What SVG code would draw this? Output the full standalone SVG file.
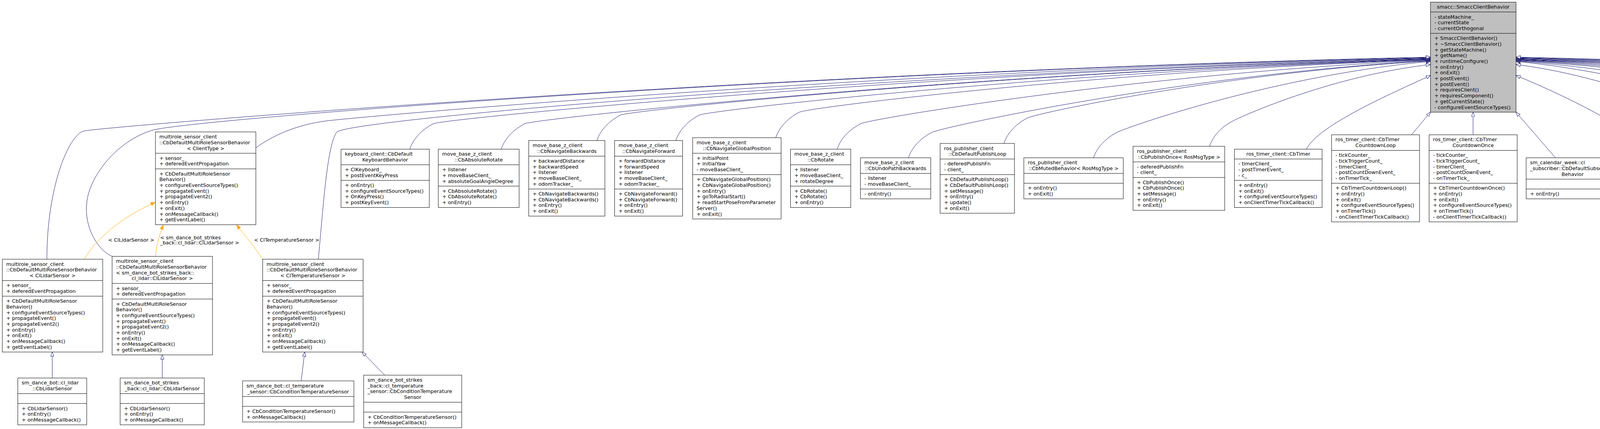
<svg xmlns="http://www.w3.org/2000/svg" width="7638" height="1097" viewBox="0 0 7638 1097">
<style>
text{font-family:"DejaVu Sans","Liberation Sans",sans-serif;font-size:12.8px;fill:#000}
.c{text-anchor:middle}
.b{fill:#fff;stroke:#000;stroke-width:1}
.g{fill:#bfbfbf;stroke:#000;stroke-width:1}
.s{fill:none;stroke:#000;stroke-width:1}
.e{fill:none;stroke:#191970;stroke-width:1;marker-end:url(#inh)}
.o{fill:none;stroke:#ffa500;stroke-width:1;marker-end:url(#tpl)}
</style>
<defs>
<marker id="inh" viewBox="0 0 12 10" refX="11.5" refY="5" markerWidth="12" markerHeight="10" markerUnits="userSpaceOnUse" orient="auto"><path d="M0.5,0.8 L11.5,5 L0.5,9.2 Z" fill="#fff" stroke="#191970"/></marker>
<marker id="tpl" viewBox="0 0 12 10" refX="11.5" refY="5" markerWidth="12" markerHeight="10" markerUnits="userSpaceOnUse" orient="auto"><path d="M0.5,0.8 L11.5,5 L0.5,9.2 Z" fill="#ffa500" stroke="#ffa500"/></marker>
</defs>
<rect width="7638" height="1097" fill="#fff"/>
<g id="edges">
<path class="e" d="M3096.4,374.1 C3106.4,344.1 3131.4,322.1 3156.4,309.1 S3409.2,193.8 3662,165"/>
<path class="e" d="M2799.4,403.5 C2809.4,373.5 2834.4,351.5 2859.4,338.5 S3260.7,193.3 3662,157"/>
<path class="e" d="M2570,366.75 C2580,336.75 2605,314.75 2630,301.75 S3146,185.2 3662,156"/>
<path class="e" d="M2325.5,403.5 C2335.5,373.5 2360.5,351.5 2385.5,338.5 S3023.8,191.7 3662,155"/>
<path class="e" d="M2143,381.45 C2153,351.45 2178,329.45 2203,316.45 S2932.5,186.5 3662,154"/>
<path class="e" d="M1986,352 C1996,322 2021,300 2046,287 S2854,179.8 3662,153"/>
<path class="e" d="M1730,359.4 C1740,329.4 1765,307.4 1790,294.4 S2726,180.9 3662,152.5"/>
<path class="e" d="M1528,359.4 C1538,329.4 1563,307.4 1588,294.4 S2625,180.5 3662,152"/>
<path class="e" d="M1283,381.45 C1293,351.45 1318,329.45 1343,316.45 S2502.5,184.1 3662,151"/>
<path class="e" d="M1049,381.45 C1059,351.45 1084,329.45 1109,316.45 S2385.5,183.3 3662,150"/>
<path class="e" d="M815,662.85 C828,520 838,370 862,338 S2262,186.8 3662,149"/>
<path class="e" d="M655,378 C700,345 760,320 829,310 S2245.5,180.4 3662,148"/>
<path class="e" d="M287,655.5 C250,640 215,580 222,520 C228,450 300,360 390,333 S2026,184.2 3662,147"/>
<path class="e" d="M120,662.85 C120,480 175,345 215,335 S1938.5,183.8 3662,146"/>
<path class="e" d="M3344.3,381.45 C3375,320 3560,240 3662,193"/>
<path class="e" d="M3613.4,344.7 L3662,286.9"/>
<path class="e" d="M3771,344.7 L3771,286.9"/>
<path class="e" d="M3982,403.5 L3881,286.9"/>
<path class="e" d="M4239.7,403.5 C4200,340 4020,250 3881,193"/>
<path class="e" d="M4496.3,403.5 C4486.3,373.5 4461.3,351.5 4436.3,338.5 S4158.7,199.7 3881,165"/>
<path class="e" d="M4683.6,403.5 C4673.6,373.5 4648.6,351.5 4623.6,338.5 S4252.3,193.3 3881,157"/>
<path class="e" d="M4875.4,396.15 C4865.4,366.15 4840.4,344.15 4815.4,331.15 S4348.2,191 3881,156"/>
<path class="e" d="M5094,388.8 C5084,358.8 5059,336.8 5034,323.8 S4457.5,188.8 3881,155"/>
<path class="e" d="M5333.6,403.5 C5323.6,373.5 5298.6,351.5 5273.6,338.5 S4577.3,190.9 3881,154"/>
<path class="e" d="M5532,403.5 C5522,373.5 5497,351.5 5472,338.5 S4676.5,190.1 3881,153"/>
<path class="e" d="M5738,396.15 C5728,366.15 5703,344.15 5678,331.15 S4779.5,188.2 3881,152.5"/>
<path class="e" d="M5963.4,381.45 C5953.4,351.45 5928.4,329.45 5903.4,316.45 S4892.2,184.9 3881,152"/>
<path class="e" d="M6212,410.85 C6202,380.85 6177,358.85 6152,345.85 S5016.5,190 3881,151"/>
<path class="e" d="M6462.7,410.85 C6452.7,380.85 6427.7,358.85 6402.7,345.85 S5141.9,189.2 3881,150"/>
<path class="e" d="M6719,410.85 C6709,380.85 6684,358.85 6659,345.85 S5270,188.4 3881,149"/>
<path class="e" d="M6971,410.85 C6961,380.85 6936,358.85 6911,345.85 S5396,187.6 3881,148"/>
<path class="e" d="M7226,410.85 C7216,380.85 7191,358.85 7166,345.85 S5523.5,186.8 3881,147"/>
<path class="e" d="M7476.5,410.85 C7466.5,380.85 7441.5,358.85 7416.5,345.85 S5648.8,186 3881,146"/>
<path class="e" d="M133.8,966.65 L133.8,900.15"/>
<path class="e" d="M415.4,966.65 L415.4,907.5"/>
<path class="e" d="M771,974 L780,900.15"/>
<path class="e" d="M985,959.3 L927,900.15"/>
<path class="o" d="M215.6,662.85 C240,620 300,560 397,517.5"/>
<path class="o" d="M398,655.5 C400,630 408,600 418,575.5"/>
<path class="o" d="M672.5,662.85 C655,635 625,600 606,575.5"/>
<text class="c" x="336" y="618">&lt; ClLidarSensor &gt;</text>
<text x="410" y="611.5">&lt; sm_dance_bot_strikes</text>
<text x="410" y="625">_back::cl_lidar::ClLidarSensor &gt;</text>
<text class="c" x="734" y="618">&lt; ClTemperatureSensor &gt;</text>
</g>
<g id="n_top" transform="translate(3662,5.5)"><rect class="g" width="219" height="281.4"/><path class="s" d="M0,25.2H219M0,79.8H219"/>
<text class="c" x="109.5" y="16.8">smacc::SmaccClientBehavior</text>
<text x="10" y="42">- stateMachine_</text><text x="10" y="56.7">- currentState</text><text x="10" y="71.4">- currentOrthogonal</text>
<text x="10" y="96.6">+ SmaccClientBehavior()</text><text x="10" y="111.3">+ ~SmaccClientBehavior()</text><text x="10" y="126">+ getStateMachine()</text><text x="10" y="140.7">+ getName()</text><text x="10" y="155.4">+ runtimeConfigure()</text><text x="10" y="170.1">+ onEntry()</text><text x="10" y="184.8">+ onExit()</text><text x="10" y="199.5">+ postEvent()</text><text x="10" y="214.2">+ postEvent()</text><text x="10" y="228.9">+ requiresClient()</text><text x="10" y="243.6">+ requiresComponent()</text><text x="10" y="258.3">+ getCurrentState()</text><text x="10" y="273">- configureEventSourceTypes()</text>
</g>
<g id="n_tmpl" transform="translate(398,337.35)"><rect class="b" width="257" height="237.3"/><path class="s" d="M0,54.6H257M0,94.5H257"/>
<text x="10" y="16.8">multirole_sensor_client</text><text x="10" y="31.5">::CbDefaultMultiRoleSensorBehavior</text><text class="c" x="128.5" y="46.2">&lt; ClientType &gt;</text>
<text x="10" y="71.4">+ sensor_</text><text x="10" y="86.1">+ deferedEventPropagation</text>
<text x="10" y="111.3">+ CbDefaultMultiRoleSensor</text><text x="10" y="126">Behavior()</text><text x="10" y="140.7">+ configureEventSourceTypes()</text><text x="10" y="155.4">+ propagateEvent()</text><text x="10" y="170.1">+ propagateEvent2()</text><text x="10" y="184.8">+ onEntry()</text><text x="10" y="199.5">+ onExit()</text><text x="10" y="214.2">+ onMessageCallback()</text><text x="10" y="228.9">+ getEventLabel()</text>
</g>
<g id="n_lidar_inst" transform="translate(6,662.85)"><rect class="b" width="257" height="237.3"/><path class="s" d="M0,54.6H257M0,94.5H257"/>
<text x="10" y="16.8">multirole_sensor_client</text><text x="10" y="31.5">::CbDefaultMultiRoleSensorBehavior</text><text class="c" x="128.5" y="46.2">&lt; ClLidarSensor &gt;</text>
<text x="10" y="71.4">+ sensor_</text><text x="10" y="86.1">+ deferedEventPropagation</text>
<text x="10" y="111.3">+ CbDefaultMultiRoleSensor</text><text x="10" y="126">Behavior()</text><text x="10" y="140.7">+ configureEventSourceTypes()</text><text x="10" y="155.4">+ propagateEvent()</text><text x="10" y="170.1">+ propagateEvent2()</text><text x="10" y="184.8">+ onEntry()</text><text x="10" y="199.5">+ onExit()</text><text x="10" y="214.2">+ onMessageCallback()</text><text x="10" y="228.9">+ getEventLabel()</text>
</g>
<g id="n_sb_lidar_inst" transform="translate(287,655.5)"><rect class="b" width="257" height="252"/><path class="s" d="M0,69.3H257M0,109.2H257"/>
<text x="10" y="16.8">multirole_sensor_client</text><text x="10" y="31.5">::CbDefaultMultiRoleSensorBehavior</text><text x="10" y="46.2">&lt; sm_dance_bot_strikes_back::</text><text class="c" x="128.5" y="60.9">cl_lidar::ClLidarSensor &gt;</text>
<text x="10" y="86.1">+ sensor_</text><text x="10" y="100.8">+ deferedEventPropagation</text>
<text x="10" y="126">+ CbDefaultMultiRoleSensor</text><text x="10" y="140.7">Behavior()</text><text x="10" y="155.4">+ configureEventSourceTypes()</text><text x="10" y="170.1">+ propagateEvent()</text><text x="10" y="184.8">+ propagateEvent2()</text><text x="10" y="199.5">+ onEntry()</text><text x="10" y="214.2">+ onExit()</text><text x="10" y="228.9">+ onMessageCallback()</text><text x="10" y="243.6">+ getEventLabel()</text>
</g>
<g id="n_temp_inst" transform="translate(672.5,662.85)"><rect class="b" width="257" height="237.3"/><path class="s" d="M0,54.6H257M0,94.5H257"/>
<text x="10" y="16.8">multirole_sensor_client</text><text x="10" y="31.5">::CbDefaultMultiRoleSensorBehavior</text><text class="c" x="128.5" y="46.2">&lt; ClTemperatureSensor &gt;</text>
<text x="10" y="71.4">+ sensor_</text><text x="10" y="86.1">+ deferedEventPropagation</text>
<text x="10" y="111.3">+ CbDefaultMultiRoleSensor</text><text x="10" y="126">Behavior()</text><text x="10" y="140.7">+ configureEventSourceTypes()</text><text x="10" y="155.4">+ propagateEvent()</text><text x="10" y="170.1">+ propagateEvent2()</text><text x="10" y="184.8">+ onEntry()</text><text x="10" y="199.5">+ onExit()</text><text x="10" y="214.2">+ onMessageCallback()</text><text x="10" y="228.9">+ getEventLabel()</text>
</g>
<g id="n_keyboard" transform="translate(873,381.45)"><rect class="b" width="226" height="149.1"/><path class="s" d="M0,39.9H226M0,79.8H226"/>
<text x="10" y="16.8">keyboard_client::CbDefault</text><text class="c" x="113" y="31.5">KeyboardBehavior</text>
<text x="10" y="56.7">+ ClKeyboard_</text><text x="10" y="71.4">+ postEventKeyPress</text>
<text x="10" y="96.6">+ onEntry()</text><text x="10" y="111.3">+ configureEventSourceTypes()</text><text x="10" y="126">+ OnKeyPress()</text><text x="10" y="140.7">+ postKeyEvent()</text>
</g>
<g id="n_absrot" transform="translate(1122,381.45)"><rect class="b" width="207" height="149.1"/><path class="s" d="M0,39.9H207M0,94.5H207"/>
<text x="10" y="16.8">move_base_z_client</text><text class="c" x="103.5" y="31.5">::CbAbsoluteRotate</text>
<text x="10" y="56.7">+ listener</text><text x="10" y="71.4">+ moveBaseClient_</text><text x="10" y="86.1">+ absoluteGoalAngleDegree</text>
<text x="10" y="111.3">+ CbAbsoluteRotate()</text><text x="10" y="126">+ CbAbsoluteRotate()</text><text x="10" y="140.7">+ onEntry()</text>
</g>
<g id="n_navback" transform="translate(1353.6,359.4)"><rect class="b" width="195" height="193.2"/><path class="s" d="M0,39.9H195M0,123.9H195"/>
<text x="10" y="16.8">move_base_z_client</text><text class="c" x="97.5" y="31.5">::CbNavigateBackwards</text>
<text x="10" y="56.7">+ backwardDistance</text><text x="10" y="71.4">+ backwardSpeed</text><text x="10" y="86.1">+ listener</text><text x="10" y="100.8">+ moveBaseClient_</text><text x="10" y="115.5">+ odomTracker_</text>
<text x="10" y="140.7">+ CbNavigateBackwards()</text><text x="10" y="155.4">+ CbNavigateBackwards()</text><text x="10" y="170.1">+ onEntry()</text><text x="10" y="184.8">+ onExit()</text>
</g>
<g id="n_navfwd" transform="translate(1573.4,359.4)"><rect class="b" width="174" height="193.2"/><path class="s" d="M0,39.9H174M0,123.9H174"/>
<text x="10" y="16.8">move_base_z_client</text><text class="c" x="87" y="31.5">::CbNavigateForward</text>
<text x="10" y="56.7">+ forwardDistance</text><text x="10" y="71.4">+ forwardSpeed</text><text x="10" y="86.1">+ listener</text><text x="10" y="100.8">+ moveBaseClient_</text><text x="10" y="115.5">+ odomTracker_</text>
<text x="10" y="140.7">+ CbNavigateForward()</text><text x="10" y="155.4">+ CbNavigateForward()</text><text x="10" y="170.1">+ onEntry()</text><text x="10" y="184.8">+ onExit()</text>
</g>
<g id="n_navglobal" transform="translate(1773.2,352.05)"><rect class="b" width="226.4" height="207.9"/><path class="s" d="M0,39.9H226.4M0,94.5H226.4"/>
<text x="10" y="16.8">move_base_z_client</text><text class="c" x="113.2" y="31.5">::CbNavigateGlobalPosition</text>
<text x="10" y="56.7">+ initialPoint</text><text x="10" y="71.4">+ initialYaw</text><text x="10" y="86.1">- moveBaseClient_</text>
<text x="10" y="111.3">+ CbNavigateGlobalPosition()</text><text x="10" y="126">+ CbNavigateGlobalPosition()</text><text x="10" y="140.7">+ onEntry()</text><text x="10" y="155.4">+ goToRadialStart()</text><text x="10" y="170.1">+ readStartPoseFromParameter</text><text x="10" y="184.8">Server()</text><text x="10" y="199.5">+ onExit()</text>
</g>
<g id="n_rotate" transform="translate(2023.6,381.45)"><rect class="b" width="154.3" height="149.1"/><path class="s" d="M0,39.9H154.3M0,94.5H154.3"/>
<text x="10" y="16.8">move_base_z_client</text><text class="c" x="77.15" y="31.5">::CbRotate</text>
<text x="10" y="56.7">+ listener</text><text x="10" y="71.4">+ moveBaseClient_</text><text x="10" y="86.1">+ rotateDegree</text>
<text x="10" y="111.3">+ CbRotate()</text><text x="10" y="126">+ CbRotate()</text><text x="10" y="140.7">+ onEntry()</text>
</g>
<g id="n_undo" transform="translate(2202.7,403.5)"><rect class="b" width="180" height="105"/><path class="s" d="M0,39.9H180M0,79.8H180"/>
<text x="10" y="16.8">move_base_z_client</text><text class="c" x="90" y="31.5">::CbUndoPathBackwards</text>
<text x="10" y="56.7">- listener</text><text x="10" y="71.4">- moveBaseClient_</text>
<text x="10" y="96.6">- onEntry()</text>
</g>
<g id="n_publoop" transform="translate(2406.7,366.75)"><rect class="b" width="190.3" height="178.5"/><path class="s" d="M0,39.9H190.3M0,79.8H190.3"/>
<text x="10" y="16.8">ros_publisher_client</text><text class="c" x="95.15" y="31.5">::CbDefaultPublishLoop</text>
<text x="10" y="56.7">- deferedPublishFn</text><text x="10" y="71.4">- client_</text>
<text x="10" y="96.6">+ CbDefaultPublishLoop()</text><text x="10" y="111.3">+ CbDefaultPublishLoop()</text><text x="10" y="126">+ setMessage()</text><text x="10" y="140.7">+ onEntry()</text><text x="10" y="155.4">+ update()</text><text x="10" y="170.1">+ onExit()</text>
</g>
<g id="n_muted" transform="translate(2621,403.5)"><rect class="b" width="254.6" height="105"/><path class="s" d="M0,39.9H254.6M0,65.1H254.6"/>
<text x="10" y="16.8">ros_publisher_client</text><text class="c" x="127.3" y="31.5">::CbMutedBehavior&lt; RosMsgType &gt;</text>
<text x="10" y="81.9">+ onEntry()</text><text x="10" y="96.6">+ onExit()</text>
</g>
<g id="n_pubonce" transform="translate(2900.6,374.1)"><rect class="b" width="234.7" height="163.8"/><path class="s" d="M0,39.9H234.7M0,79.8H234.7"/>
<text x="10" y="16.8">ros_publisher_client</text><text class="c" x="117.35" y="31.5">::CbPublishOnce&lt; RosMsgType &gt;</text>
<text x="10" y="56.7">- deferedPublishFn</text><text x="10" y="71.4">- client_</text>
<text x="10" y="96.6">+ CbPublishOnce()</text><text x="10" y="111.3">+ CbPublishOnce()</text><text x="10" y="126">+ setMessage()</text><text x="10" y="140.7">+ onEntry()</text><text x="10" y="155.4">+ onExit()</text>
</g>
<g id="n_timer" transform="translate(3160.2,381.45)"><rect class="b" width="224.4" height="149.1"/><path class="s" d="M0,25.2H224.4M0,79.8H224.4"/>
<text class="c" x="112.2" y="16.8">ros_timer_client::CbTimer</text>
<text x="10" y="42">- timerClient_</text><text x="10" y="56.7">- postTimerEvent_</text><text x="10" y="71.4">- c_</text>
<text x="10" y="96.6">+ onEntry()</text><text x="10" y="111.3">+ onExit()</text><text x="10" y="126">+ configureEventSourceTypes()</text><text x="10" y="140.7">+ onClientTimerTickCallback()</text>
</g>
<g id="n_cdloop" transform="translate(3408.8,344.7)"><rect class="b" width="225.2" height="222.6"/><path class="s" d="M0,39.9H225.2M0,123.9H225.2"/>
<text x="10" y="16.8">ros_timer_client::CbTimer</text><text class="c" x="112.6" y="31.5">CountdownLoop</text>
<text x="10" y="56.7">- tickCounter_</text><text x="10" y="71.4">- tickTriggerCount_</text><text x="10" y="86.1">- timerClient_</text><text x="10" y="100.8">- postCountDownEvent_</text><text x="10" y="115.5">- onTimerTick_</text>
<text x="10" y="140.7">+ CbTimerCountdownLoop()</text><text x="10" y="155.4">+ onEntry()</text><text x="10" y="170.1">+ onExit()</text><text x="10" y="184.8">+ configureEventSourceTypes()</text><text x="10" y="199.5">+ onTimerTick()</text><text x="10" y="214.2">- onClientTimerTickCallback()</text>
</g>
<g id="n_cdonce" transform="translate(3658.5,344.7)"><rect class="b" width="225.5" height="222.6"/><path class="s" d="M0,39.9H225.5M0,123.9H225.5"/>
<text x="10" y="16.8">ros_timer_client::CbTimer</text><text class="c" x="112.75" y="31.5">CountdownOnce</text>
<text x="10" y="56.7">- tickCounter_</text><text x="10" y="71.4">- tickTriggerCount_</text><text x="10" y="86.1">- timerClient_</text><text x="10" y="100.8">- postCountDownEvent_</text><text x="10" y="115.5">- onTimerTick_</text>
<text x="10" y="140.7">+ CbTimerCountdownOnce()</text><text x="10" y="155.4">+ onEntry()</text><text x="10" y="170.1">+ onExit()</text><text x="10" y="184.8">+ configureEventSourceTypes()</text><text x="10" y="199.5">+ onTimerTick()</text><text x="10" y="214.2">- onClientTimerTickCallback()</text>
</g>
<g id="n_cal_default" transform="translate(3907,403.5)"><rect class="b" width="237.6" height="105"/><path class="s" d="M0,54.6H237.6M0,79.8H237.6"/>
<text x="10" y="16.8">sm_calendar_week::cl</text><text x="10" y="31.5">_subscriber::CbDefaultSubscriber</text><text class="c" x="118.8" y="46.2">Behavior</text>
<text x="10" y="96.6">+ onEntry()</text>
</g>
<g id="n_cal_watchdog" transform="translate(4168.7,403.5)"><rect class="b" width="252.9" height="105"/><path class="s" d="M0,54.6H252.9M0,79.8H252.9"/>
<text x="10" y="16.8">sm_calendar_week::cl</text><text x="10" y="31.5">_subscriber::CbWatchdogSubscriber</text><text class="c" x="126.45" y="46.2">Behavior</text>
<text x="10" y="96.6">+ onEntry()</text>
</g>
<g id="n_ledoff" transform="translate(4446.3,403.5)"><rect class="b" width="161.9" height="105"/><path class="s" d="M0,39.9H161.9M0,65.1H161.9"/>
<text x="10" y="16.8">sm_dance_bot::cl_led</text><text class="c" x="80.95" y="31.5">::CbLEDOff</text>
<text x="10" y="56.7">+ ledActionClient_</text>
<text x="10" y="81.9">+ onEntry()</text><text x="10" y="96.6">+ onExit()</text>
</g>
<g id="n_ledon" transform="translate(4632.8,403.5)"><rect class="b" width="162" height="105"/><path class="s" d="M0,39.9H162M0,65.1H162"/>
<text x="10" y="16.8">sm_dance_bot::cl_led</text><text class="c" x="81" y="31.5">::CbLEDOn</text>
<text x="10" y="56.7">+ ledActionClient_</text>
<text x="10" y="81.9">+ onEntry()</text><text x="10" y="96.6">+ onExit()</text>
</g>
<g id="n_service3" transform="translate(4819.4,396.15)"><rect class="b" width="197" height="119.7"/><path class="s" d="M0,39.9H197M0,79.8H197"/>
<text x="10" y="16.8">sm_dance_bot::cl_service3</text><text class="c" x="98.5" y="31.5">::CbService3</text>
<text x="10" y="56.7">- serviceClient_</text><text x="10" y="71.4">- value_</text>
<text x="10" y="96.6">+ CbService3()</text><text x="10" y="111.3">+ onEntry()</text>
</g>
<g id="n_strpub" transform="translate(5041.8,388.8)"><rect class="b" width="211.2" height="134.4"/><path class="s" d="M0,39.9H211.2M0,79.8H211.2"/>
<text x="10" y="16.8">sm_dance_bot::cl_string</text><text class="c" x="105.6" y="31.5">_publisher::CbStringPublisher</text>
<text x="10" y="56.7">+ publisherClient_</text><text x="10" y="71.4">+ msg_</text>
<text x="10" y="96.6">+ CbStringPublisher()</text><text x="10" y="111.3">+ onEntry()</text><text x="10" y="126">+ onExit()</text>
</g>
<g id="n_sb_ledoff" transform="translate(5277,403.5)"><rect class="b" width="174.5" height="105"/><path class="s" d="M0,39.9H174.5M0,65.1H174.5"/>
<text x="10" y="16.8">sm_dance_bot_strikes</text><text class="c" x="87.25" y="31.5">_back::cl_led::CbLEDOff</text>
<text x="10" y="56.7">+ ledActionClient_</text>
<text x="10" y="81.9">+ onEntry()</text><text x="10" y="96.6">+ onExit()</text>
</g>
<g id="n_sb_ledon" transform="translate(5476,403.5)"><rect class="b" width="174" height="105"/><path class="s" d="M0,39.9H174M0,65.1H174"/>
<text x="10" y="16.8">sm_dance_bot_strikes</text><text class="c" x="87" y="31.5">_back::cl_led::CbLEDOn</text>
<text x="10" y="56.7">+ ledActionClient_</text>
<text x="10" y="81.9">+ onEntry()</text><text x="10" y="96.6">+ onExit()</text>
</g>
<g id="n_sb_service3" transform="translate(5674.6,396.15)"><rect class="b" width="222.4" height="119.7"/><path class="s" d="M0,39.9H222.4M0,79.8H222.4"/>
<text x="10" y="16.8">sm_dance_bot_strikes</text><text class="c" x="111.2" y="31.5">_back::cl_service3::CbService3</text>
<text x="10" y="56.7">- serviceClient_</text><text x="10" y="71.4">- value_</text>
<text x="10" y="96.6">+ CbService3()</text><text x="10" y="111.3">+ onEntry()</text>
</g>
<g id="n_sb_strpub" transform="translate(5921.6,381.45)"><rect class="b" width="190.4" height="149.1"/><path class="s" d="M0,54.6H190.4M0,94.5H190.4"/>
<text x="10" y="16.8">sm_dance_bot_strikes</text><text x="10" y="31.5">_back::cl_string_publisher</text><text class="c" x="95.2" y="46.2">::CbStringPublisher</text>
<text x="10" y="71.4">+ publisherClient_</text><text x="10" y="86.1">+ msg_</text>
<text x="10" y="111.3">+ CbStringPublisher()</text><text x="10" y="126">+ onEntry()</text><text x="10" y="140.7">+ onExit()</text>
</g>
<g id="n_packml_default" transform="translate(6136.6,410.85)"><rect class="b" width="221" height="90.3"/><path class="s" d="M0,39.9H221M0,65.1H221"/>
<text x="10" y="16.8">sm_packML::cl_subscriber</text><text class="c" x="110.5" y="31.5">::CbDefaultSubscriberBehavior</text>
<text x="10" y="81.9">+ onEntry()</text>
</g>
<g id="n_packml_watchdog" transform="translate(6382,410.85)"><rect class="b" width="237.3" height="90.3"/><path class="s" d="M0,39.9H237.3M0,65.1H237.3"/>
<text x="10" y="16.8">sm_packML::cl_subscriber</text><text class="c" x="118.65" y="31.5">::CbWatchdogSubscriberBehavior</text>
<text x="10" y="81.9">+ onEntry()</text>
</g>
<g id="n_pr2_default" transform="translate(6643.3,410.85)"><rect class="b" width="221" height="90.3"/><path class="s" d="M0,39.9H221M0,65.1H221"/>
<text x="10" y="16.8">sm_pr2_plugs::cl_subscriber</text><text class="c" x="110.5" y="31.5">::CbDefaultSubscriberBehavior</text>
<text x="10" y="81.9">+ onEntry()</text>
</g>
<g id="n_pr2_watchdog" transform="translate(6889,410.85)"><rect class="b" width="236.7" height="90.3"/><path class="s" d="M0,39.9H236.7M0,65.1H236.7"/>
<text x="10" y="16.8">sm_pr2_plugs::cl_subscriber</text><text class="c" x="118.35" y="31.5">::CbWatchdogSubscriberBehavior</text>
<text x="10" y="81.9">+ onEntry()</text>
</g>
<g id="n_three_default" transform="translate(7149.7,410.85)"><rect class="b" width="221.6" height="90.3"/><path class="s" d="M0,39.9H221.6M0,65.1H221.6"/>
<text x="10" y="16.8">sm_three_some::cl_subscriber</text><text class="c" x="110.8" y="31.5">::CbDefaultSubscriberBehavior</text>
<text x="10" y="81.9">+ onEntry()</text>
</g>
<g id="n_three_watchdog" transform="translate(7395.4,410.85)"><rect class="b" width="236.6" height="90.3"/><path class="s" d="M0,39.9H236.6M0,65.1H236.6"/>
<text x="10" y="16.8">sm_three_some::cl_subscriber</text><text class="c" x="118.3" y="31.5">::CbWatchdogSubscriberBehavior</text>
<text x="10" y="81.9">+ onEntry()</text>
</g>
<g id="n_lidar" transform="translate(45.6,966.65)"><rect class="b" width="176.4" height="119.7"/><path class="s" d="M0,39.9H176.4M0,65.1H176.4"/>
<text x="10" y="16.8">sm_dance_bot::cl_lidar</text><text class="c" x="88.2" y="31.5">::CbLidarSensor</text>
<text x="10" y="81.9">+ CbLidarSensor()</text><text x="10" y="96.6">+ onEntry()</text><text x="10" y="111.3">+ onMessageCallback()</text>
</g>
<g id="n_sb_lidar" transform="translate(307.6,966.65)"><rect class="b" width="215.4" height="119.7"/><path class="s" d="M0,39.9H215.4M0,65.1H215.4"/>
<text x="10" y="16.8">sm_dance_bot_strikes</text><text class="c" x="107.7" y="31.5">_back::cl_lidar::CbLidarSensor</text>
<text x="10" y="81.9">+ CbLidarSensor()</text><text x="10" y="96.6">+ onEntry()</text><text x="10" y="111.3">+ onMessageCallback()</text>
</g>
<g id="n_condtemp" transform="translate(621,974)"><rect class="b" width="285" height="105"/><path class="s" d="M0,39.9H285M0,65.1H285"/>
<text x="10" y="16.8">sm_dance_bot::cl_temperature</text><text class="c" x="142.5" y="31.5">_sensor::CbConditionTemperatureSensor</text>
<text x="10" y="81.9">+ CbConditionTemperatureSensor()</text><text x="10" y="96.6">+ onMessageCallback()</text>
</g>
<g id="n_sb_condtemp" transform="translate(931,959.3)"><rect class="b" width="251" height="134.4"/><path class="s" d="M0,69.3H251M0,94.5H251"/>
<text x="10" y="16.8">sm_dance_bot_strikes</text><text x="10" y="31.5">_back::cl_temperature</text><text x="10" y="46.2">_sensor::CbConditionTemperature</text><text class="c" x="125.5" y="60.9">Sensor</text>
<text x="10" y="111.3">+ CbConditionTemperatureSensor()</text><text x="10" y="126">+ onMessageCallback()</text>
</g>
</svg>
